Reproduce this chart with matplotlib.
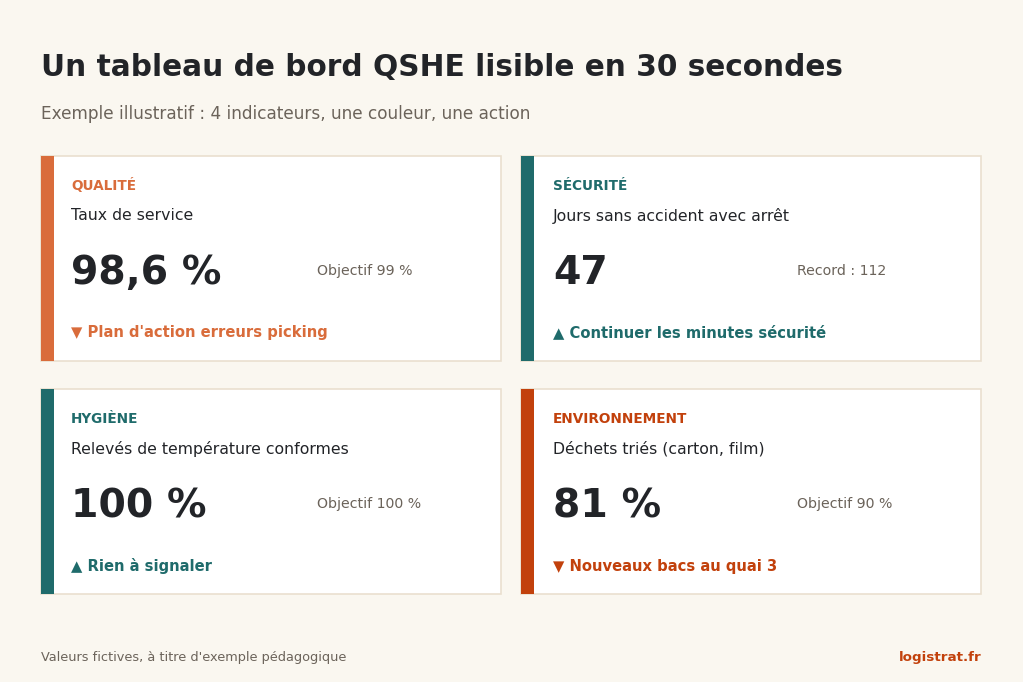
import matplotlib.pyplot as plt
from matplotlib.patches import Rectangle

plt.rcParams["font.family"] = ["DejaVu Sans"]

categories = ["QUALITÉ", "SÉCURITÉ", "HYGIÈNE", "ENVIRONNEMENT"]
descriptions = ["Taux de service", "Jours sans accident avec arrêt",
                "Relevés de température conformes", "Déchets triés (carton, film)"]
values = ["98,6 %", "47", "100 %", "81 %"]
targets = ["Objectif 99 %", "Record : 112", "Objectif 100 %", "Objectif 90 %"]
actions = ["▼ Plan d'action erreurs picking", "▲ Continuer les minutes sécurité",
           "▲ Rien à signaler", "▼ Nouveaux bacs au quai 3"]
accents = ["#D96C3B", "#1F6B6B", "#1F6B6B", "#C2410C"]

BG = "#FAF7F0"
DARK = "#222428"
GREY = "#6B635A"
BORDER = "#EADFCF"

fig = plt.figure(figsize=(10.23, 6.82), dpi=100, facecolor=BG)
ax = fig.add_axes([0, 0, 1, 1])
ax.set_xlim(0, 1023)
ax.set_ylim(682, 0)
ax.axis("off")

ax.text(41, 68, "Un tableau de bord QSHE lisible en 30 secondes", fontsize=21.3,
        fontweight="bold", color=DARK, va="center")
ax.text(41, 114, "Exemple illustratif : 4 indicateurs, une couleur, une action",
        fontsize=12.2, color=GREY, va="center")

xs = [41, 521]
pads = [30, 32]
ys = [156, 389]
w, h = 460, 205
for i in range(4):
    x0 = xs[i % 2]
    tx = x0 + pads[i % 2]
    y0 = ys[i // 2]
    c = accents[i]
    ax.add_patch(Rectangle((x0, y0), w, h, facecolor="white", edgecolor=BORDER, lw=1.2))
    ax.add_patch(Rectangle((x0, y0), 13, h, facecolor=c, edgecolor="none"))
    ax.text(tx, y0 + 30, categories[i], fontsize=9.85, fontweight="bold", color=c, va="center")
    ax.text(tx, y0 + 60, descriptions[i], fontsize=11.35, color=DARK, va="center")
    ax.text(tx, y0 + 117, values[i], fontsize=28.4, fontweight="bold", color=DARK, va="center")
    ax.text(x0 + 276, y0 + 115, targets[i], fontsize=10.15, color=GREY, va="center")
    ax.text(tx, y0 + 177, actions[i], fontsize=10.6, fontweight="bold", color=c, va="center")

ax.text(41, 658, "Valeurs fictives, à titre d'exemple pédagogique", fontsize=9.3, color=GREY, va="center")
ax.text(982, 658, "logistrat.fr", fontsize=9.7, fontweight="bold", color="#C2410C",
        va="center", ha="right")

fig.savefig("out.png", dpi=100, facecolor=BG)
